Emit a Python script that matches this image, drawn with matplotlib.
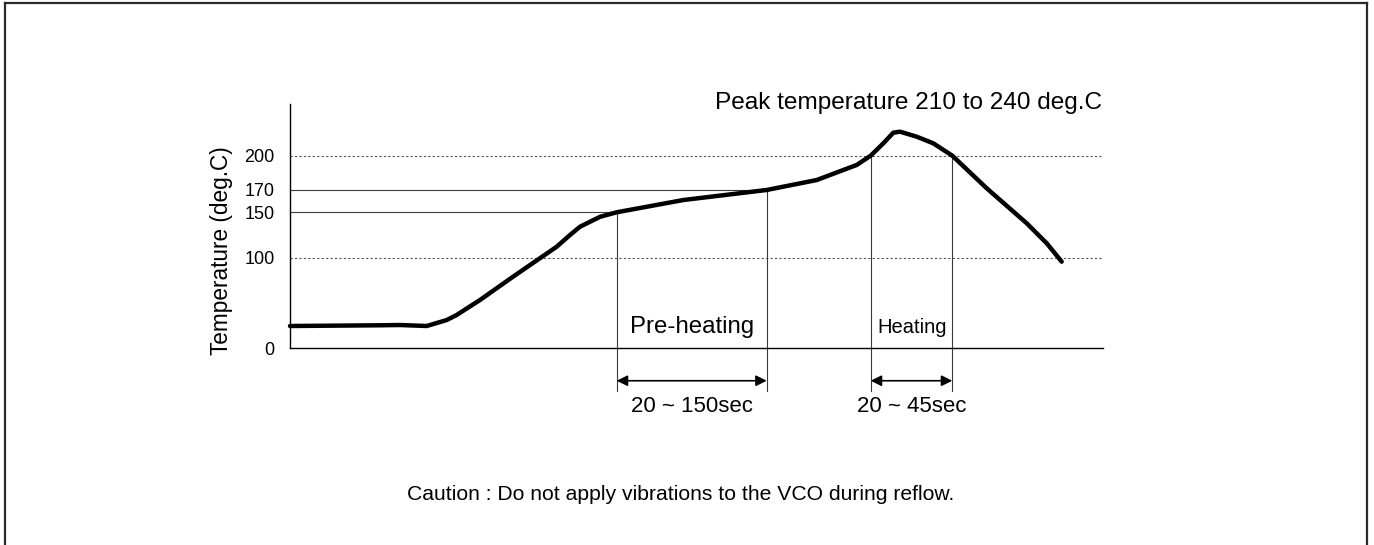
import numpy as np
import matplotlib
matplotlib.use("Agg")
import matplotlib.pyplot as plt
from matplotlib.lines import Line2D

# ---- data (schematic reflow profile) ----
time_pts = [0, 90, 110, 136.7, 156.7, 166.7, 190, 223, 266.7, 280, 290, 310, 326.7,
            393.3, 476.7, 526.7, 566.7, 580.7, 593.3, 603.3, 610, 626.7, 643.3,
            662.3, 696.7, 736.7, 756.7, 771.7]
temp_pts = [24.6, 25.4, 25.7, 24.6, 31.2, 36.8, 53.3, 79, 112.1, 125, 134.1, 145, 150,
            161, 170, 178.7, 191.9, 200, 210.8, 220.1, 221, 216.6, 210.8,
            200, 171.5, 137.9, 115.9, 95.6]
ytick_vals = [0, 100, 150, 170, 200]
ytick_labels = ["0", "100", "150", "170", "200"]
preheat_start, preheat_end = 326.7, 476.7
heat_start, heat_end = 580.7, 662.3
x_end = 813
y_top = 245.2

# schematic (non-linear) temperature axis
T_BRK = np.array([0, 100, 150, 170, 200], float)
H_BRK = np.array([0, 90.6, 136, 158.3, 192.6], float)
S_LO = (H_BRK[1] - H_BRK[0]) / (T_BRK[1] - T_BRK[0])
S_HI = (H_BRK[-1] - H_BRK[-2]) / (T_BRK[-1] - T_BRK[-2])


def fwd(t):
    t = np.asarray(t, float)
    h = np.interp(t, T_BRK, H_BRK)
    h = np.where(t < T_BRK[0], H_BRK[0] + (t - T_BRK[0]) * S_LO, h)
    h = np.where(t > T_BRK[-1], H_BRK[-1] + (t - T_BRK[-1]) * S_HI, h)
    return h


def inv(h):
    h = np.asarray(h, float)
    t = np.interp(h, H_BRK, T_BRK)
    t = np.where(h < H_BRK[0], T_BRK[0] + (h - H_BRK[0]) / S_LO, t)
    t = np.where(h > H_BRK[-1], T_BRK[-1] + (h - H_BRK[-1]) / S_HI, t)
    return t


plt.rcParams['font.family'] = ['Liberation Sans', 'DejaVu Sans']

W, H = 1374, 545
fig = plt.figure(figsize=(W / 100, H / 100), dpi=100)
ax = fig.add_axes([290 / W, (H - 348.3) / H, (1103 - 290) / W, 244.3 / H])
ax.set_yscale('function', functions=(fwd, inv))
ax.set_xlim(0, x_end)
ax.set_ylim(0, y_top)

for s in ['top', 'right']:
    ax.spines[s].set_visible(False)
for s in ['left', 'bottom']:
    ax.spines[s].set_linewidth(1.0)
    ax.spines[s].set_color('black')
ax.set_xticks([])
ax.set_yticks(ytick_vals)
ax.set_yticklabels(ytick_labels)
ax.yaxis.set_minor_locator(matplotlib.ticker.NullLocator())
ax.tick_params(axis='y', length=0, pad=11, labelsize=13)

thin = dict(color='#3a3a3a', lw=0.8)
# dotted reference lines
for v in [100, 200]:
    ax.plot([0, x_end], [v, v], color='#555555', lw=0.8, ls=(0, (2, 2)))
# solid 150 / 170 lines
ax.plot([0, preheat_start], [150, 150], **thin)
ax.plot([0, preheat_end], [170, 170], **thin)

# vertical markers
low = -46.8
for xv, yv in [(preheat_start, 150), (preheat_end, 170), (heat_start, 200), (heat_end, 200)]:
    ax.plot([xv, xv], [yv, low], clip_on=False, **thin)

# profile curve
ax.plot(time_pts, temp_pts, color='black', lw=3.2, solid_joinstyle='round',
        solid_capstyle='round', clip_on=False, zorder=5)

# arrows
arr_y = -35.8
for a, b in [(preheat_start, preheat_end), (heat_start, heat_end)]:
    ax.annotate('', xy=(b, arr_y), xytext=(a, arr_y), annotation_clip=False,
                arrowprops=dict(arrowstyle='<|-|>', color='black', lw=1.2,
                                mutation_scale=16, shrinkA=0, shrinkB=0))

ax.text((preheat_start + preheat_end) / 2, 23.5, "Pre-heating", ha='center', va='center',
        fontsize=17.3)
ax.text((heat_start + heat_end) / 2 + 1, 23.5, "Heating", ha='center', va='center',
        fontsize=14.5)
ax.text((preheat_start + preheat_end) / 2, -64.5, "20 ~ 150sec", ha='center', va='center',
        fontsize=16, clip_on=False)
ax.text((heat_start + heat_end) / 2, -64.5, "20 ~ 45sec", ha='center', va='center',
        fontsize=16, clip_on=False)
ax.text(x_end - 1, 245.8, "Peak temperature 210 to 240 deg.C", ha='right', va='center',
        fontsize=17.6, clip_on=False)

fig.text(222 / W, 1 - 251 / H, "Temperature (deg.C)", rotation=90, ha='center',
         va='center', fontsize=16.3)
fig.text(680.5 / W, 1 - 495 / H, "Caution : Do not apply vibrations to the VCO during reflow.",
         ha='center', va='center', fontsize=15.2)

# outer frame (left, top, right)
fc = '#2a2a2a'
fig.add_artist(Line2D([5 / W, 5 / W], [0, 1 - 3 / H], color=fc, lw=1.6))
fig.add_artist(Line2D([5 / W, 1367 / W], [1 - 3 / H, 1 - 3 / H], color=fc, lw=1.6))
fig.add_artist(Line2D([1367 / W, 1367 / W], [0, 1 - 3 / H], color=fc, lw=1.6))

fig.savefig('out.png', dpi=100)
